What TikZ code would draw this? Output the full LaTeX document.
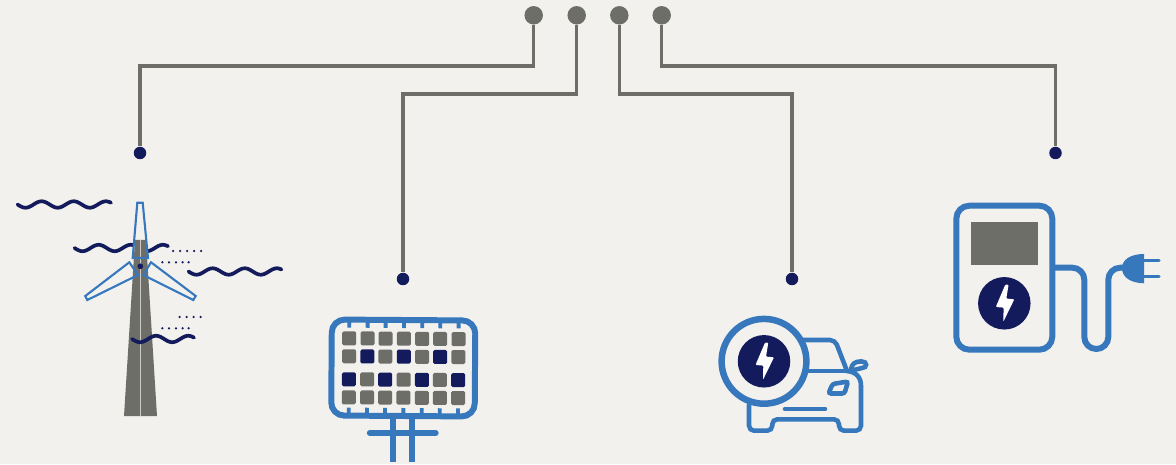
\documentclass[tikz,border=0pt]{standalone}
\usepackage{tikz}

\definecolor{paper}{HTML}{F3F1EE}
\definecolor{wiregray}{HTML}{6E6E68}
\definecolor{iconblue}{HTML}{3778BD}
\definecolor{deepnavy}{HTML}{141B5C}

% wavy wind line: start x, mid y, end x
\newcommand{\windline}[3]{
    \draw[windstroke] plot[domain=#1:#3, samples=70, smooth] (\x, {#2+3.2*sin(11.2*(\x-#1))});
}
% white lightning bolt around a centre
\newcommand{\boltmark}[2]{
    \fill[white, rounded corners=0.02cm, shift={(#1, #2)}] (1,-18.7) -- (-8.5,3.7) -- (-0.7,4.3) -- (-1,18.5) -- (10,-4) -- (2,-4.7) -- (4.3,-18.7) -- cycle;
}

\begin{document}
\begin{tikzpicture}[x=0.02cm, y=-0.02cm]
    % Define styles
    \tikzstyle{topdot} = [circle, minimum size=0.37cm, inner sep=0, fill=wiregray]
    \tikzstyle{enddot} = [circle, minimum size=0.25cm, inner sep=0, fill=deepnavy]
    \tikzstyle{boltdisc} = [circle, minimum size=1.05cm, inner sep=0, fill=deepnavy]
    \tikzstyle{wire} = [draw=wiregray, line width=2pt, sharp corners]
    \tikzstyle{windstroke} = [draw=deepnavy, line width=2.1pt, line cap=round]
    \tikzstyle{bladeline} = [draw=iconblue, line width=1.2pt]
    \tikzstyle{airdot} = [circle, minimum size=0.05cm, inner sep=0, fill=deepnavy]
    \tikzstyle{cardline} = [draw=iconblue, line width=2.6pt, line cap=round, rounded corners=0.1cm]
    \tikzstyle{panelframe} = [draw=iconblue, line width=3.4pt, rounded corners=0.26cm]
    \tikzstyle{paneltick} = [draw=iconblue, line width=2.2pt]
    \tikzstyle{graycell} = [rectangle, rounded corners=0.03cm, minimum size=0.28cm, inner sep=0, fill=wiregray]
    \tikzstyle{navycell} = [graycell, fill=deepnavy]

    % Background
    \fill[paper] (0, 0) rectangle (1176, 464);

    % Terminals at the top
    \node[topdot] (top1) at (533.7, 15.3) {};
    \node[topdot] (top2) at (576.7, 15.3) {};
    \node[topdot] (top3) at (619.3, 15.3) {};
    \node[topdot] (top4) at (661.7, 15.3) {};

    % Terminals above the icons
    \node[enddot] (wind) at (140, 153) {};
    \node[enddot] (solar) at (403, 279) {};
    \node[enddot] (car) at (792, 279) {};
    \node[enddot] (charger) at (1055.5, 153) {};

    % Connectors
    \coordinate (bend1) at (300, 66);
    \coordinate (bend2) at (480, 94);
    \coordinate (bend3) at (700, 94);
    \coordinate (bend4) at (850, 66);
    \draw[wire] (top1) |- (bend1) -| (wind);
    \draw[wire] (top2) |- (bend2) -| (solar);
    \draw[wire] (top3) |- (bend3) -| (car);
    \draw[wire] (top4) |- (bend4) -| (charger);

    % Wind turbine
    \windline{17.5}{204.5}{111}
    \windline{74.5}{248}{168}
    \windline{188.5}{271.5}{281.5}
    \fill[paper] (137.3, 202.7) -- (142.7, 202.7) -- (148, 258) -- (132.7, 258) -- cycle;
    \fill[wiregray] (135, 240) -- (146, 240) -- (157, 416) -- (124, 416) -- cycle;
    \draw[paper!70!wiregray, line width=0.35pt] (140.3, 240) -- (140.3, 416);
    \draw[bladeline] (137.3, 202.7) -- (142.7, 202.7) -- (148, 258) -- (132.7, 258) -- cycle;
    \draw[bladeline] (129.3, 262.3) -- (138, 275) -- (87.3, 300) -- (85.3, 296) -- cycle;
    \draw[bladeline] (151, 262.3) -- (143.3, 275) -- (193.3, 300) -- (195.7, 296) -- cycle;
    \node[circle, minimum size=0.115cm, inner sep=0, fill=deepnavy] (hub) at (140.3, 266.3) {};
    \windline{132}{339}{194}

    % Air particles
    \foreach \x in {173, 180, 187, 194, 201} {
        \node[airdot] at (\x, 251) {};
    }
    \foreach \x in {162.3, 169, 176, 182.6, 188.6} {
        \node[airdot] at (\x, 262.3) {};
        \node[airdot] at (\x, 328.3) {};
    }
    \foreach \x in {179.7, 186.7, 193.7, 200.7} {
        \node[airdot] at (\x, 317) {};
    }

    % Solar panel
    \draw[iconblue, line width=3.4pt] (393.3, 415) -- (393.3, 461.5);
    \draw[iconblue, line width=3.4pt] (412, 415) -- (412, 461.5);
    \draw[iconblue, line width=3pt, line cap=round] (369.5, 433) -- (436, 433);
    \begin{scope}[rotate around={-0.4:(403, 368)}]
        \draw[panelframe] (331.5, 320) rectangle (475, 416);
        \foreach \x in {349, 367.3, 385.3, 403.7, 422, 440, 458.3} {
            \draw[paneltick] (\x, 320) -- (\x, 328);
            \draw[paneltick] (\x, 408) -- (\x, 416);
            \node[graycell] at (\x, 338.7) {};
            \node[graycell] at (\x, 397.7) {};
        }
        \foreach \x in {349, 385.3, 422, 458.3} {
            \node[graycell] at (\x, 356.7) {};
            \node[navycell] at (\x, 379.7) {};
        }
        \foreach \x in {367.3, 403.7, 440} {
            \node[navycell] at (\x, 356.7) {};
            \node[graycell] at (\x, 379.7) {};
        }
    \end{scope}

    % Electric car
    \draw[cardline] (803, 340) -- (835, 340) -- (847, 371);
    \draw[cardline, sharp corners] (808, 371) -- (847, 371);
    \draw[cardline] (749, 405) -- (749, 430.7) -- (772.3, 430.7) -- (772.3, 419.3) -- (839, 419.3) -- (839, 430.7) -- (861, 430.7) -- (861, 386);
    \draw[cardline, sharp corners] (861, 386) .. controls (861, 377) and (856, 372) .. (847, 371);
    \draw[cardline, sharp corners] (851, 369) .. controls (852, 364) and (855, 361.5) .. (860, 361.5) -- (862, 361.5) .. controls (867.5, 361.5) and (867.5, 368) .. (862, 368) -- (854, 370);
    \draw[cardline, rounded corners=0.05cm] (828.5, 393.5) -- (832.5, 384) -- (848, 381.5) -- (844.5, 393.5) -- cycle;
    \draw[cardline] (785, 409) -- (825, 409);
    \draw[iconblue, fill=paper, line width=3.7pt] (764, 361.3) circle (42.4);
    \node[boltdisc] (carbolt) at (764, 361.3) {};
    \boltmark{764}{361.3}

    % Charging station
    \draw[iconblue, line width=3.4pt, rounded corners=0.26cm] (956.3, 205.7) rectangle (1052.3, 349.7);
    \fill[wiregray] (971, 222) rectangle (1038, 265);
    \node[boltdisc] (stationbolt) at (1004.3, 303.3) {};
    \boltmark{1004.3}{303.3}
    \draw[iconblue, line width=3.4pt, rounded corners=0.24cm] (1055, 267.7) -- (1084.3, 267.7) -- (1084.3, 349) -- (1108.3, 349) -- (1108.3, 267.7) -- (1124, 267.7);
    \fill[iconblue] (1144, 254) -- (1144, 283.3) .. controls (1130, 283) and (1122, 277) .. (1122, 268) .. controls (1122, 260) and (1130, 254) .. (1144, 254) -- cycle;
    \draw[iconblue, line width=1.7pt, line cap=round] (1144, 260.3) -- (1159, 260.3);
    \draw[iconblue, line width=1.7pt, line cap=round] (1144, 276.3) -- (1159, 276.3);

\end{tikzpicture}
\end{document}
